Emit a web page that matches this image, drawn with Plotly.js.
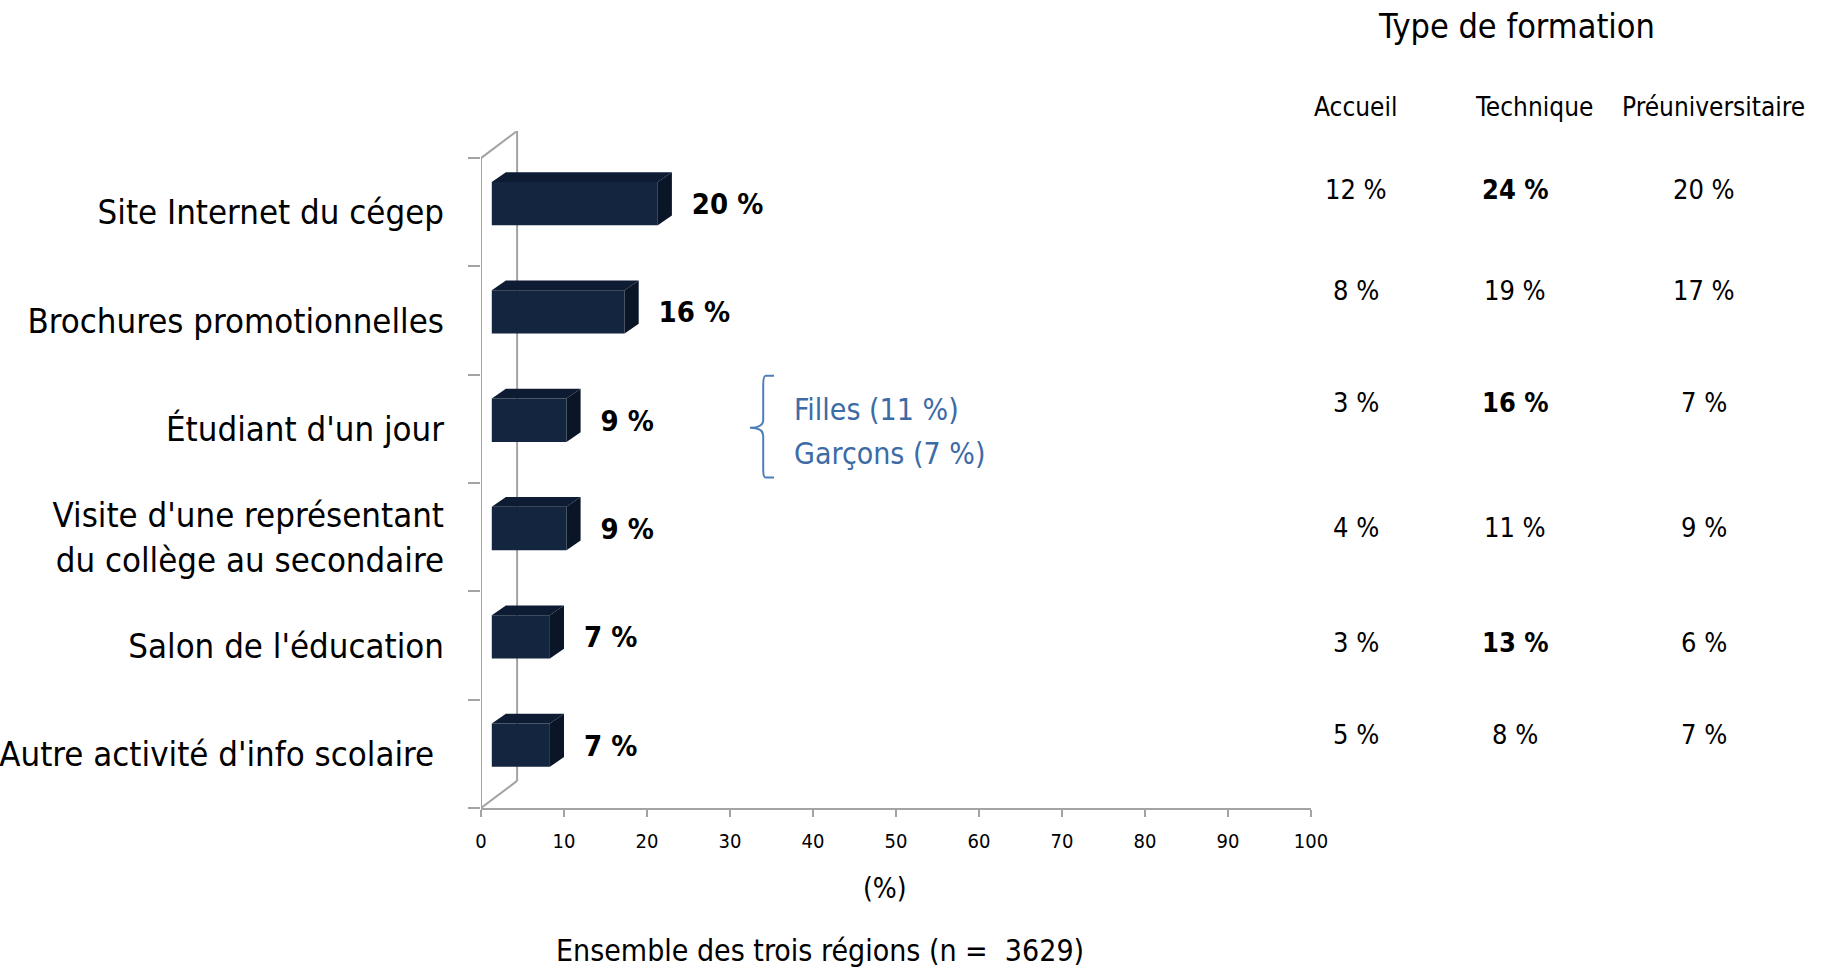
<!DOCTYPE html>
<html>
<head>
<meta charset="utf-8">
<script src="https://cdn.plot.ly/plotly-3.0.1.min.js"></script>
<style>
  html, body { margin: 0; padding: 0; background: #fff; }
  #chart { width: 1826px; height: 970px; }
</style>
</head>
<body>
<div id="chart"></div>
<script>
// données du graphique
const categories = [
    'Site Internet du cégep',
    'Brochures promotionnelles',
    "Étudiant d'un jour",
    "Visite d'une représentant<br>du collège au secondaire",
    "Salon de l'éducation",
    "Autre activité d'info scolaire\u00a0"
];
const totalValues = [20, 16, 9, 9, 7, 7];

// tableau "Type de formation"
const typeHeaders = ['Accueil', 'Technique', 'Préuniversitaire'];
const accueilValues = [12, 8, 3, 4, 3, 5];
const techniqueValues = [24, 19, 16, 11, 13, 8];
const preuValues = [20, 17, 7, 9, 6, 7];
const techniqueBold = [true, false, true, false, true, false];

const genderLabels = ['Filles', 'Garçons'];
const genderValues = [11, 7];

const xTicks = [0, 10, 20, 30, 40, 50, 60, 70, 80, 90, 100];
const sampleSize = 3629;

// ---- mise en page (pixels) ----
const W = 1826, H = 970;
const PL = 481, PR = 1311, PT = 131, PB = 808;
const FONT = '"DejaVu Sans Condensed", "Liberation Sans", sans-serif';
const GRAY = '#a3a3a3';

function px2x(px) { return (px - PL) / (PR - PL); }       // paper x
function py2y(py) { return (PB - py) / (PB - PT); }       // paper y

// géométrie 3D (unités des axes)
const barBase = 1.3, faceTop = -0.28, faceH = 0.40;
const depthX = 1.7, depthY = 0.09;
const wallX = 4.35, wallY = 0.25;

const idx = categories.map((c, i) => i);

// faces du dessus et de côté
let topX = [], topY = [], sideX = [], sideY = [];
totalValues.forEach((v, i) => {
    const y0 = i + faceTop, y1 = i + faceTop + faceH;
    const x0 = barBase, x1 = barBase + v;
    topX.push(x0, x1, x1 + depthX, x0 + depthX, x0, null);
    topY.push(y0, y0, y0 - depthY, y0 - depthY, y0, null);
    sideX.push(x1, x1 + depthX, x1 + depthX, x1, x1, null);
    sideY.push(y0, y0 - depthY, y1 - depthY, y1, y0, null);
});

const traces = [
    {
        type: 'bar', orientation: 'h',
        y: idx, x: totalValues, base: barBase,
        width: faceH, offset: faceTop,
        marker: { color: '#13253f', line: { width: 0 } },
        hoverinfo: 'skip'
    },
    {
        type: 'scatter', mode: 'lines', x: topX, y: topY,
        fill: 'toself', fillcolor: '#0e1c33', line: { width: 0, color: '#0e1c33' },
        hoverinfo: 'skip'
    },
    {
        type: 'scatter', mode: 'lines', x: sideX, y: sideY,
        fill: 'toself', fillcolor: '#0a1628', line: { width: 0, color: '#0a1628' },
        hoverinfo: 'skip'
    },
    {
        type: 'scatter', mode: 'text',
        x: totalValues.map(v => v + 5.4),
        y: idx.map(i => i + faceTop + faceH / 2 + 0.03),
        text: totalValues.map(v => '<b>' + v + ' %</b>'),
        textposition: 'middle right',
        textfont: { family: FONT, size: 29, color: '#000' },
        hoverinfo: 'skip'
    }
];

// cadre 3D
const shapes = [
    { type: 'line', xref: 'x', yref: 'y', x0: 0, y0: -0.5, x1: 0, y1: 5.5, layer: 'below', line: { color: GRAY, width: 2 } },
    { type: 'line', xref: 'x', yref: 'y', x0: 0, y0: -0.5, x1: wallX, y1: -0.5 - wallY, layer: 'below', line: { color: GRAY, width: 2 } },
    { type: 'line', xref: 'x', yref: 'y', x0: wallX, y0: -0.5 - wallY, x1: wallX, y1: 5.5 - wallY, layer: 'below', line: { color: GRAY, width: 2 } },
    { type: 'line', xref: 'x', yref: 'y', x0: 0, y0: 5.5, x1: wallX, y1: 5.5 - wallY, layer: 'below', line: { color: GRAY, width: 2 } },
    // accolade Filles / Garçons
    {
        type: 'path', xref: 'x', yref: 'y',
        path: 'M 35.3 1.51 L 34.3 1.51 Q 34.0 1.51 34.0 1.6 L 34.0 1.92 Q 34.0 1.99 32.4 1.99 Q 34.0 1.99 34.0 2.06 L 34.0 2.37 Q 34.0 2.45 34.3 2.45 L 35.3 2.45',
        line: { color: '#4f7fb8', width: 2 }
    }
];

const annotations = [];
function addText(text, px, py, size, opts) {
    annotations.push(Object.assign({
        xref: 'paper', yref: 'paper', x: px2x(px), y: py2y(py),
        text: text, showarrow: false,
        xanchor: 'center', yanchor: 'middle',
        font: { family: FONT, size: size, color: '#000' }
    }, opts || {}));
}

addText('Type de formation', 1516, 26, 34);
const colX = [1355, 1534, 1713];
const valX = [1356, 1515, 1704];
typeHeaders.forEach((h, j) => addText(h, colX[j], 107, 26));

const rowY = [189, 290, 402, 527, 642, 734];
rowY.forEach((ry, i) => {
    addText(accueilValues[i] + ' %', valX[0], ry, 27);
    const t = techniqueValues[i] + ' %';
    addText(techniqueBold[i] ? '<b>' + t + '</b>' : t, valX[1], ry, 27);
    addText(preuValues[i] + ' %', valX[2], ry, 27);
});

const genderY = [409, 453];
genderLabels.forEach((g, k) => {
    addText(g + ' (' + genderValues[k] + ' %)', 792, genderY[k], 30,
        { xanchor: 'left', font: { family: FONT, size: 30, color: '#3d6ba5' } });
});

addText('(%)', 885, 888, 28);
addText('Ensemble des trois régions (n =  ' + sampleSize + ')', 820, 950, 30);

const layout = {
    width: W, height: H,
    margin: { l: PL, r: W - PR, t: PT, b: H - PB, pad: 0 },
    paper_bgcolor: '#fff', plot_bgcolor: '#fff',
    showlegend: false,
    xaxis: {
        range: [0, 100], tickvals: xTicks,
        showgrid: false, zeroline: false,
        showline: true, linecolor: GRAY, linewidth: 2,
        ticks: 'outside', ticklen: 7, tickwidth: 2, tickcolor: GRAY,
        ticklabelstandoff: 7,
        tickfont: { family: FONT, size: 20, color: '#000' },
        fixedrange: true
    },
    yaxis: {
        range: [5.5, -0.5 - wallY],
        tickvals: idx, ticktext: categories,
        ticks: '', showline: false, showgrid: false, zeroline: false,
        ticklabelstandoff: 36,
        tickfont: { family: FONT, size: 34.5, color: '#000' },
        minor: {
            tickvals: [-0.5, 0.5, 1.5, 2.5, 3.5, 4.5, 5.5],
            ticks: 'outside', ticklen: 12, tickwidth: 2, tickcolor: GRAY, showgrid: false
        },
        fixedrange: true
    },
    shapes: shapes,
    annotations: annotations
};

Plotly.newPlot('chart', traces, layout, { displayModeBar: false, staticPlot: true });
</script>
</body>
</html>
